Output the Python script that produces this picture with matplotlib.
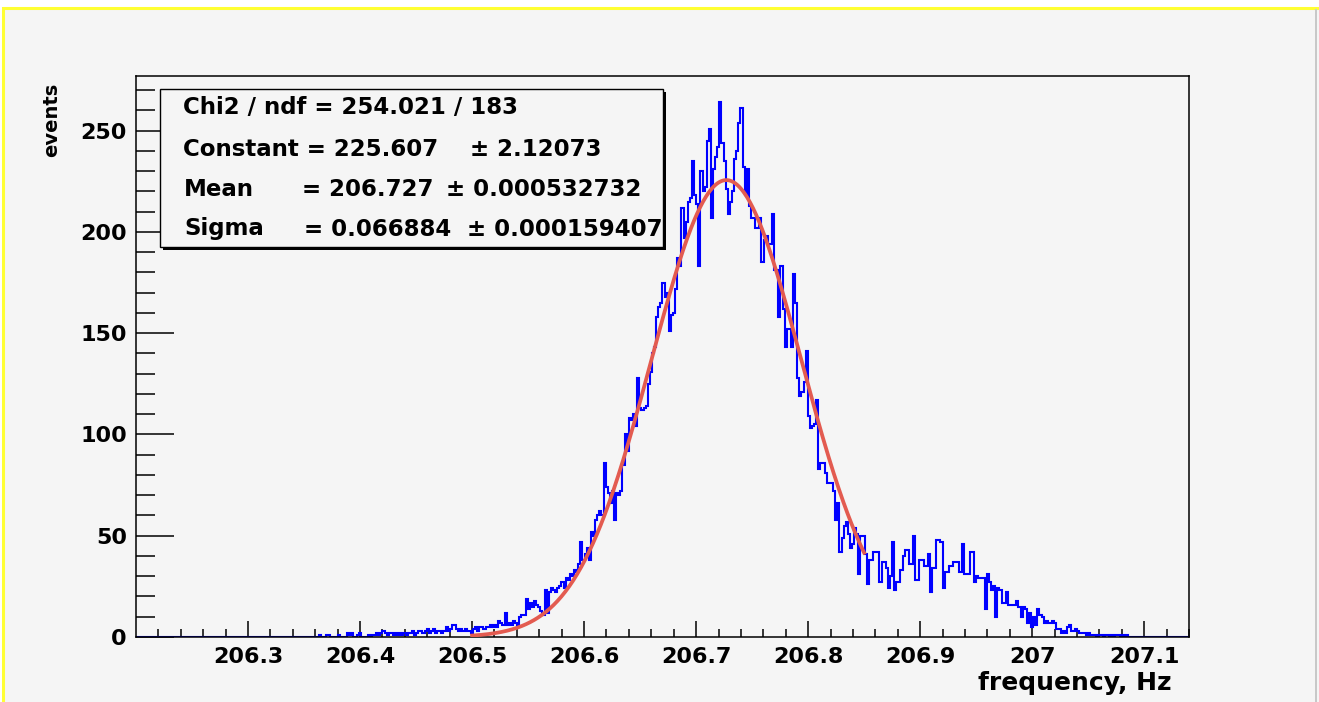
import matplotlib.pyplot as plt
import matplotlib.patches as mpatches
import numpy as np

# histogram binning: 500 bins over the x range
x_min, x_max, n_bins = 206.2, 207.14, 500
first_bin = 84  # first bin with an entry

# bin contents (events per bin), left to right
left_tail = [0, 0, 0, 1, 0, 0, 1, 1, 0, 0,
             0, 0, 1, 0, 0, 0, 2, 1, 2, 0,
             0, 1, 2, 0, 0, 0, 1, 0, 1, 1,
             2, 1, 2, 3, 2, 1, 2, 2, 1, 2,
             1, 2, 1, 2, 1, 2, 2, 3, 1, 2,
             3, 3, 2, 3, 4, 2, 3, 4, 2, 3,
             3, 2, 3, 5, 3, 4, 6, 6, 4, 3,
             4, 3, 4, 3, 3, 2, 4, 5, 3, 5,
             5, 4, 5, 5, 6, 5, 6, 5, 8, 7,
             6, 12, 6, 7, 6, 8, 7, 6, 10, 11,
             11, 19, 14, 17, 15, 18, 16, 15, 13, 11,
             23, 12, 22, 24, 23, 22, 24, 25, 27, 24]
rise = [29, 28, 31, 30, 33, 32, 36, 47, 38, 41,
        44, 38, 52, 50, 58, 60, 62, 60, 86, 74,
        71, 66, 72, 58, 71, 70, 72, 85, 100, 92,
        108, 107, 110, 104, 128, 113, 112, 113, 114, 125,
        131, 140, 143, 158, 163, 165, 175, 168, 170, 151,
        159, 160, 172, 187, 183, 212, 197, 205, 215, 217]
peak = [235, 218, 214, 183, 230, 220, 222, 245, 251, 207,
        231, 237, 242, 264, 244, 235, 221, 209, 215, 220,
        236, 240, 254, 261, 232, 218, 231, 213, 207, 207,
        202, 202, 207, 185, 196, 198, 194, 194, 209, 181]
fall = [181, 158, 183, 162, 143, 152, 152, 143, 179, 165,
        128, 119, 121, 126, 141, 109, 103, 104, 105, 117,
        83, 86, 86, 81, 76, 76, 76, 72, 58, 66,
        42, 49, 55, 57, 51, 44, 46, 54, 51, 31]
shoulder = [50, 50, 41, 26, 38, 38, 42, 42, 42, 27,
            37, 37, 34, 24, 30, 47, 23, 27, 27, 33,
            40, 43, 43, 36, 36, 50, 28, 28, 38, 38,
            35, 35, 41, 22, 34, 34, 48, 48, 47, 24,
            32, 32, 35, 35, 37, 37, 37, 32, 46, 31,
            31, 31, 42, 42, 27, 30, 29, 29, 29, 14]
right_tail = [31, 27, 23, 25, 10, 24, 23, 17, 17, 22,
              16, 16, 16, 16, 18, 15, 10, 15, 14, 7,
              12, 5, 10, 6, 14, 11, 10, 7, 8, 7,
              7, 8, 7, 4, 4, 2, 3, 2, 5, 6,
              3, 3, 4, 3, 2, 2, 2, 1, 2, 1,
              1, 1, 0, 1, 1, 0, 1, 1, 0, 1,
              0, 1, 1, 0, 1, 0, 1, 0, 0, 0]

# gaussian fit result, as printed in the stats box
fit_constant = 225.607
fit_mean = 206.727
fit_sigma = 0.066884
fit_range = (206.5, 206.85)

x_ticks = [206.3, 206.4, 206.5, 206.6, 206.7, 206.8, 206.9, 207.0, 207.1]
x_tick_labels = ['206.3', '206.4', '206.5', '206.6', '206.7', '206.8',
                 '206.9', '207', '207.1']
y_ticks = [0, 50, 100, 150, 200, 250]

stats_rows = [
    [('Chi2 / ndf = 254.021 / 183', 183)],
    [('Constant = 225.607', 183), ('\u00b1 2.12073', 470)],
    [('Mean', 184), ('= 206.727', 302), ('\u00b1 0.000532732', 446)],
    [('Sigma', 184), ('= 0.066884', 304), ('\u00b1 0.000159407', 467)],
]
stats_row_y = [108, 149, 189, 229]

# =*=*=*=*=*= build histogram =*=*=*=*=*=
values = left_tail + rise + peak + fall + shoulder + right_tail
counts = np.zeros(n_bins)
counts[first_bin:first_bin + len(values)] = values
edges = np.linspace(x_min, x_max, n_bins + 1)

W, H = 1319, 702
bg = '#f5f5f5'
fig = plt.figure(figsize=(W / 100, H / 100), dpi=100, facecolor='white')

# canvas with yellow frame (left / top)
fig.patches.append(mpatches.Rectangle((3 / W, -0.02), (W + 20) / W, (H - 8) / H + 0.02,
                                      transform=fig.transFigure, facecolor=bg,
                                      edgecolor='#ffff33', lw=2.2, zorder=-10))
fig.patches.append(mpatches.Rectangle((1315 / W, 0), 1.5 / W, (H - 9) / H,
                                      transform=fig.transFigure, facecolor='#c8c8c8',
                                      edgecolor='none', zorder=-9))

ax = fig.add_axes([136 / W, 1 - 637 / H, 1053 / W, 561 / H])
ax.set_facecolor(bg)

ax.stairs(counts, edges, color='#0000ff', lw=1.5, zorder=2)
xf = np.linspace(fit_range[0], fit_range[1], 400)
yf = fit_constant * np.exp(-0.5 * ((xf - fit_mean) / fit_sigma) ** 2)
ax.plot(xf, yf, color='#e35b50', lw=2.7, zorder=3)

ax.set_xlim(x_min, x_max)
ax.set_ylim(0, 277)

ax.set_xticks(x_ticks)
ax.set_xticklabels(x_tick_labels)
ax.set_xticks(np.arange(206.22, 207.141, 0.02), minor=True)
ax.set_yticks(y_ticks)
ax.set_yticks(np.arange(0, 277, 10), minor=True)

ax.tick_params(axis='x', which='major', direction='in', length=11.5, width=1.1,
               pad=7, top=False, labelsize=16)
ax.tick_params(axis='x', which='minor', direction='in', length=5.8, width=1.1, top=False)
ax.tick_params(axis='y', which='major', direction='in', length=27, width=1.1,
               pad=6.5, right=False, labelsize=16)
ax.tick_params(axis='y', which='minor', direction='in', length=13.7, width=1.1, right=False)
for lab in ax.get_xticklabels() + ax.get_yticklabels():
    lab.set_fontweight('bold')
for sp in ax.spines.values():
    sp.set_linewidth(1.1)

# stats box with drop shadow
bx0, by0, bx1, by1 = 160, 89, 663, 247
box_shadow = mpatches.Rectangle(((bx0 + 3) / W, 1 - (by1 + 3) / H), (bx1 - bx0) / W, (by1 - by0) / H,
                                transform=fig.transFigure, facecolor='black',
                                edgecolor='none', zorder=4)
box = mpatches.Rectangle((bx0 / W, 1 - by1 / H), (bx1 - bx0) / W, (by1 - by0) / H,
                         transform=fig.transFigure, facecolor=bg,
                         edgecolor='black', lw=1.0, zorder=5)
fig.patches.append(box_shadow)
fig.patches.append(box)
for row, yy in zip(stats_rows, stats_row_y):
    for txt, xx in row:
        fig.text(xx / W, 1 - yy / H, txt, fontsize=16.5, fontweight='bold',
                 ha='left', va='center', zorder=6)

fig.text(1172 / W, 1 - 683 / H, 'frequency, Hz', fontsize=18, fontweight='bold',
         ha='right', va='center')
fig.text(52 / W, 1 - 120 / H, 'events', fontsize=14, fontweight='bold',
         rotation=90, ha='center', va='center')

fig.savefig('out.png', dpi=100, facecolor=fig.get_facecolor())
plt.close(fig)
